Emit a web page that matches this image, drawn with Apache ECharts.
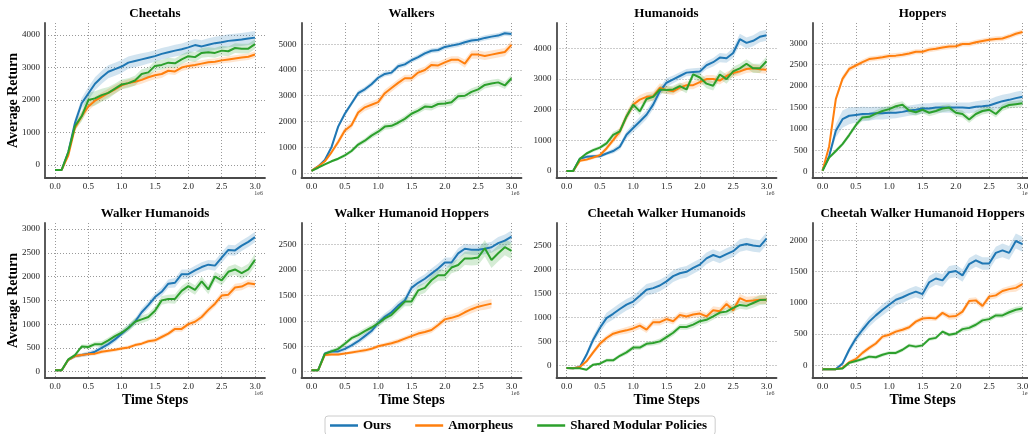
<!DOCTYPE html>
<html>
<head>
<meta charset="utf-8">
<script src="https://cdn.jsdelivr.net/npm/echarts@6.0.0/dist/echarts.min.js"></script>
<style>
  html, body { margin: 0; padding: 0; background: #fff; }
  #main { width: 1028px; height: 434px; }
</style>
</head>
<body>
<div id="main"></div>
<script>
// Training steps (in units of 1e6)
const steps = [0.0, 0.1, 0.2, 0.3, 0.4, 0.5, 0.6, 0.7, 0.8, 0.9, 1.0, 1.1, 1.2, 1.3, 1.4, 1.5,
               1.6, 1.7, 1.8, 1.9, 2.0, 2.1, 2.2, 2.3, 2.4, 2.5, 2.6, 2.7, 2.8, 2.9, 3.0];
const methods = ['Ours', 'Amorpheus', 'Shared Modular Policies'];
const panelTitles = ['Cheetahs', 'Walkers', 'Humanoids', 'Hoppers',
                     'Walker Humanoids', 'Walker Humanoid Hoppers', 'Cheetah Walker Humanoids', 'Cheetah Walker Humanoid Hoppers'];

// Cheetahs
const cheetahsOurs = [-150,-150,400,1300,1900,2200,2500,2700,2870,2950,3030,3150,3200,3250,3300,3350,3420,3470,3520,3560,3620,3690,3650,3700,3750,3780,3820,3840,3860,3890,3920];
const cheetahsAmor = [-150,-150,300,1150,1500,1800,1980,2100,2220,2330,2450,2520,2560,2620,2700,2760,2800,2900,2880,3000,3050,3080,3120,3160,3180,3220,3250,3280,3310,3330,3400];
const cheetahsSmp  = [-150,-150,400,1200,1500,2000,2050,2150,2220,2350,2480,2520,2600,2800,2850,3050,3080,3150,3130,3250,3350,3320,3450,3470,3450,3520,3500,3600,3580,3580,3720];
const cheetahsOursStd = [0,0,60,120,160,200,200,200,200,200,200,190,190,190,180,180,180,180,180,180,190,190,190,200,200,200,200,200,200,200,200];
const cheetahsAmorStd = [0,0,60,100,120,130,130,130,130,130,120,120,120,120,120,120,120,110,110,110,110,110,100,100,100,100,100,100,100,100,100];
const cheetahsSmpStd  = [0,0,60,120,160,220,220,200,180,160,150,150,150,150,150,150,150,150,150,150,150,150,150,150,150,150,150,150,150,150,150];

// Walkers
const walkersOurs = [80,250,500,1000,1800,2300,2700,3100,3250,3450,3700,3850,3900,4150,4220,4380,4500,4650,4750,4780,4900,4950,5000,5080,5150,5180,5250,5300,5340,5430,5400];
const walkersAmor = [80,250,450,800,1200,1650,1850,2350,2550,2650,2750,3100,3300,3500,3680,3680,3900,4000,4200,4180,4300,4400,4400,4250,4600,4600,4550,4600,4650,4700,4980];
const walkersSmp  = [80,200,330,450,550,680,850,1100,1250,1450,1600,1800,1830,1950,2100,2300,2420,2580,2560,2680,2700,2750,2980,3000,3150,3250,3420,3480,3520,3400,3680];
const walkersOursStd = [20,30,50,80,100,100,100,100,100,100,100,100,100,100,100,100,100,100,100,100,100,100,100,100,100,100,100,100,100,100,100];
const walkersAmorStd = [20,30,50,80,120,130,130,140,140,140,140,140,140,140,140,140,140,140,140,140,140,140,140,160,160,160,160,160,160,160,160];
const walkersSmpStd  = [20,30,40,50,60,70,80,90,100,110,120,120,120,120,120,120,120,130,130,130,130,140,140,140,140,140,140,140,140,140,150];

// Humanoids
const humanoidsOurs = [0,0,400,460,480,480,570,650,790,1180,1400,1615,1835,2165,2600,2880,2990,3100,3210,3230,3250,3450,3550,3700,3680,3850,4300,4180,4250,4380,4430];
const humanoidsAmor = [0,0,330,370,440,515,735,1010,1290,1780,2165,2330,2420,2440,2715,2640,2600,2720,2800,2800,2900,3000,3000,2950,3100,3200,3250,3330,3350,3320,3300];
const humanoidsSmp  = [0,0,400,570,680,760,900,1180,1290,1780,2165,1945,2350,2420,2660,2640,2660,2770,2660,3150,3050,2850,2780,3150,3000,3250,3350,3500,3350,3350,3580];
const humanoidsOursStd = [0,0,40,50,60,60,60,80,100,120,140,150,150,150,150,150,130,120,120,120,120,130,140,150,150,160,180,180,180,180,180];
const humanoidsAmorStd = [0,0,40,50,60,60,80,100,150,150,150,150,150,150,150,130,130,130,130,130,130,130,130,130,130,130,130,130,130,130,130];
const humanoidsSmpStd  = [0,0,40,50,60,60,80,100,100,120,120,120,120,120,120,120,120,120,120,120,150,150,150,150,150,150,150,150,150,150,150];

// Hoppers
const hoppersOurs = [30,370,960,1230,1310,1330,1350,1355,1370,1370,1380,1380,1400,1430,1450,1480,1480,1500,1500,1500,1500,1500,1490,1520,1530,1550,1600,1650,1680,1720,1750];
const hoppersAmor = [30,600,1700,2170,2400,2480,2560,2630,2650,2670,2700,2710,2730,2760,2800,2800,2850,2870,2900,2920,2930,2980,2980,3020,3050,3080,3100,3110,3160,3220,3260];
const hoppersSmp  = [30,335,490,650,860,1090,1270,1285,1360,1420,1465,1530,1565,1430,1390,1450,1380,1420,1480,1500,1380,1350,1220,1350,1420,1450,1350,1500,1560,1580,1600];
const hoppersOursStd = [0,50,150,200,200,180,170,160,150,150,140,130,120,120,120,120,120,120,120,120,120,120,130,130,140,140,150,150,150,150,150];
const hoppersAmorStd = [0,60,80,80,70,60,60,60,60,60,60,60,60,60,60,60,60,60,60,60,60,60,60,60,60,60,60,60,60,60,60];
const hoppersSmpStd  = [0,40,50,50,60,60,70,80,80,80,80,80,80,80,80,80,80,80,80,80,80,80,80,80,80,80,80,80,80,80,80];

// Walker Humanoids
const whOurs = [30,30,250,330,350,380,420,500,580,680,800,920,1050,1250,1400,1570,1680,1850,1870,2050,2050,2130,2200,2250,2230,2400,2560,2550,2650,2730,2830];
const whAmor = [30,30,250,330,350,370,380,420,440,460,490,510,560,590,640,660,730,800,900,900,1000,1050,1150,1300,1430,1600,1620,1770,1790,1860,1840];
const whSmp  = [30,30,260,350,530,520,580,580,660,750,820,920,1050,1100,1150,1280,1500,1530,1530,1700,1800,1720,1900,1730,2000,1920,2100,2150,2070,2150,2350];
const whOursStd = [0,0,30,40,40,50,50,60,60,60,60,70,70,80,80,80,90,90,100,100,100,100,100,100,110,110,110,110,110,110,110];
const whAmorStd = [0,0,30,40,40,40,40,40,40,40,40,40,40,40,40,50,50,50,60,60,60,70,70,70,70,80,80,80,80,80,80];
const whSmpStd  = [0,0,30,40,40,50,50,60,60,60,70,70,80,80,80,90,90,90,100,100,100,100,100,100,100,110,110,110,120,120,130];

// Walker Humanoid Hoppers (Amorpheus run stops at 2.7e6)
const whhOurs = [30,30,360,400,400,450,520,600,700,800,960,1080,1170,1300,1400,1650,1750,1830,1930,2030,2150,2150,2330,2420,2400,2400,2420,2450,2530,2580,2660];
const whhAmor = [30,30,330,340,340,360,380,400,420,450,500,530,560,600,650,700,750,780,820,920,1030,1060,1100,1170,1230,1280,1310,1340];
const whhSmp  = [30,30,350,400,450,550,660,720,800,870,950,1050,1120,1250,1380,1380,1600,1650,1800,1900,1900,2050,2100,2230,2230,2250,2430,2200,2330,2450,2380];
const whhOursStd = [0,0,30,40,40,50,50,60,60,60,70,70,80,80,80,90,90,90,100,100,100,100,100,100,100,110,110,110,120,120,120];
const whhAmorStd = [0,0,30,30,30,30,30,40,40,40,40,40,50,50,50,50,60,60,60,60,70,70,70,80,80,80,90,90];
const whhSmpStd  = [0,0,30,40,40,50,50,60,60,60,70,70,80,80,90,90,100,100,100,110,110,110,120,130,140,150,160,160,160,160,160];

// Cheetah Walker Humanoids
const cwhOurs = [-55,-60,-35,220,535,780,985,1075,1175,1265,1330,1450,1575,1610,1665,1750,1860,1920,1950,2030,2100,2230,2300,2250,2320,2380,2500,2530,2500,2480,2640];
const cwhAmor = [-55,-60,-35,85,270,450,570,660,700,730,770,830,745,900,900,965,920,1050,1020,1060,1080,1020,1150,1130,1280,1150,1400,1340,1350,1370,1370];
const cwhSmp  = [-55,-60,-60,-90,15,35,105,105,200,270,370,370,450,465,500,590,680,800,800,850,920,950,1020,1100,1120,1200,1260,1240,1300,1360,1370];
const cwhOursStd = [0,0,0,60,80,100,110,120,120,120,120,120,120,120,120,120,120,120,120,120,120,120,120,120,120,120,130,130,130,130,130];
const cwhAmorStd = [0,0,0,40,50,60,60,60,60,70,70,70,70,70,70,70,70,70,70,70,70,70,80,80,80,80,90,90,90,90,90];
const cwhSmpStd  = [0,0,0,20,30,30,40,40,40,50,50,50,50,50,60,60,60,60,60,70,70,70,70,70,80,80,80,80,100,100,100];

// Cheetah Walker Humanoid Hoppers
const cwhhOurs = [-60,-60,-60,30,250,430,570,700,800,890,970,1050,1090,1140,1180,1140,1330,1390,1360,1490,1510,1440,1620,1680,1630,1630,1800,1840,1800,1990,1940];
const cwhhAmor = [-60,-60,-60,-40,50,100,200,280,350,460,490,540,570,610,700,750,760,750,840,780,790,860,1030,1040,950,1100,1120,1190,1220,1240,1300];
const cwhhSmp  = [-60,-60,-60,-50,40,70,100,140,130,170,200,200,250,320,300,320,420,440,540,490,510,580,600,650,720,740,800,800,850,890,910];
const cwhhOursStd = [0,0,0,30,50,60,70,80,80,90,90,90,90,90,90,90,100,100,100,100,100,100,100,100,100,100,100,110,110,120,120];
const cwhhAmorStd = [0,0,0,20,30,40,40,40,40,40,40,40,40,40,40,40,40,40,40,50,50,50,50,50,50,50,50,50,50,60,60];
const cwhhSmpStd  = [0,0,0,20,20,30,30,30,30,30,30,30,30,30,30,30,30,30,30,30,30,40,40,40,40,40,40,40,50,50,50];

// Per-panel series (mean, spread) and y-axis extents
const panels = [
  { means: [cheetahsOurs, cheetahsAmor, cheetahsSmp], spreads: [cheetahsOursStd, cheetahsAmorStd, cheetahsSmpStd], yMin: -400, yMax: 4370, split: 5 },
  { means: [walkersOurs, walkersAmor, walkersSmp], spreads: [walkersOursStd, walkersAmorStd, walkersSmpStd], yMin: -200, yMax: 5830, split: 5 },
  { means: [humanoidsOurs, humanoidsAmor, humanoidsSmp], spreads: [humanoidsOursStd, humanoidsAmorStd, humanoidsSmpStd], yMin: -230, yMax: 4830, split: 5 },
  { means: [hoppersOurs, hoppersAmor, hoppersSmp], spreads: [hoppersOursStd, hoppersAmorStd, hoppersSmpStd], yMin: -140, yMax: 3470, split: 7 },
  { means: [whOurs, whAmor, whSmp], spreads: [whOursStd, whAmorStd, whSmpStd], yMin: -132, yMax: 3126, split: 5 },
  { means: [whhOurs, whhAmor, whhSmp], spreads: [whhOursStd, whhAmorStd, whhSmpStd], yMin: -124, yMax: 2927, split: 5 },
  { means: [cwhOurs, cwhAmor, cwhSmp], spreads: [cwhOursStd, cwhAmorStd, cwhSmpStd], yMin: -263, yMax: 2967, split: 5 },
  { means: [cwhhOurs, cwhhAmor, cwhhSmp], spreads: [cwhhOursStd, cwhhAmorStd, cwhhSmpStd], yMin: -202, yMax: 2278, split: 5 }
];

const colors = ['#1f77b4', '#ff7f0e', '#2ca02c'];
const bandColors = ['rgba(31,119,180,0.2)', 'rgba(255,127,14,0.2)', 'rgba(44,160,44,0.2)'];
const serif = '"Liberation Serif", "Times New Roman", "DejaVu Serif", serif';
const colLefts = [45, 301.5, 556.5, 812.5];
const rowTops = [23, 223];
const plotW = 220, plotH = 155;
const spine = { color: '#4a4a4a', width: 1.8 };
const gridDots = { color: '#999', width: 1, type: [1, 2] };

const grids = [], xAxes = [], yAxes = [], series = [], graphics = [];

// Shaded band (mean ± spread) drawn as one polygon through the axis scales
function bandSeries(i, mean, sd, fill) {
  return {
    type: 'custom', xAxisIndex: i, yAxisIndex: i, silent: true, z: 1,
    data: mean.map((v, k) => [steps[k], v - sd[k], v + sd[k]]),
    encode: { x: 0, y: [1, 2] },
    clip: true,
    renderItem: function (params, api) {
      if (params.dataIndex !== 0) return null;
      const upper = [], lower = [];
      for (let k = 0; k < mean.length; k++) {
        upper.push(api.coord([steps[k], mean[k] + sd[k]]));
        lower.push(api.coord([steps[k], mean[k] - sd[k]]));
      }
      return {
        type: 'polygon',
        shape: { points: upper.concat(lower.reverse()) },
        style: { fill: fill, stroke: 'none' }
      };
    }
  };
}

panels.forEach((p, i) => {
  const left = colLefts[i % 4];
  const top = rowTops[Math.floor(i / 4)];
  grids.push({ left: left, top: top, width: plotW, height: plotH, containLabel: false, outerBoundsMode: 'none' });

  xAxes.push({
    type: 'value', gridIndex: i, min: -0.15, max: 3.15, splitNumber: 5,
    axisLine: { show: true, onZero: false, lineStyle: spine },
    axisTick: { show: false },
    axisLabel: { fontFamily: serif, fontSize: 9, color: '#222', margin: 4,
                 showMinLabel: false, showMaxLabel: false, formatter: v => v.toFixed(1) },
    splitLine: { show: true, showMinLine: false, showMaxLine: false, lineStyle: gridDots }
  });
  yAxes.push({
    type: 'value', gridIndex: i, min: p.yMin, max: p.yMax, splitNumber: p.split,
    axisLine: { show: true, onZero: false, lineStyle: spine },
    axisTick: { show: false },
    axisLabel: { fontFamily: serif, fontSize: 9, color: '#222', margin: 5,
                 showMinLabel: false, showMaxLabel: false, formatter: v => String(Math.round(v)) },
    splitLine: { show: true, showMinLine: false, showMaxLine: false, lineStyle: gridDots }
  });

  p.means.forEach((mean, m) => {
    series.push(bandSeries(i, mean, p.spreads[m], bandColors[m]));
  });
  p.means.forEach((mean, m) => {
    series.push({
      name: methods[m], type: 'line', xAxisIndex: i, yAxisIndex: i,
      data: mean.map((v, k) => [steps[k], v]),
      symbol: 'none', color: colors[m],
      lineStyle: { color: colors[m], width: 2 }, z: 3
    });
  });

  const cx = left + plotW / 2;
  graphics.push({
    type: 'text', x: cx, y: top - 9,
    style: { text: panelTitles[i], fontFamily: serif, fontWeight: 'bold', fontSize: 13,
             fill: '#000', align: 'center', verticalAlign: 'middle' }
  });
  graphics.push({
    type: 'text', x: left + plotW - 2, y: top + plotH + 15,
    style: { text: '1e6', fontFamily: serif, fontSize: 6, fill: '#444', align: 'right', verticalAlign: 'middle' }
  });
  if (i % 4 === 0) {
    graphics.push({
      type: 'text', x: 13, y: top + plotH / 2, rotation: Math.PI / 2,
      style: { text: 'Average Return', fontFamily: serif, fontWeight: 'bold', fontSize: 14,
               fill: '#000', align: 'center', verticalAlign: 'middle' }
    });
  }
  if (i >= 4) {
    graphics.push({
      type: 'text', x: cx, y: top + plotH + 22,
      style: { text: 'Time Steps', fontFamily: serif, fontWeight: 'bold', fontSize: 14,
               fill: '#000', align: 'center', verticalAlign: 'middle' }
    });
  }
});

const chart = echarts.init(document.getElementById('main'), null, { renderer: 'canvas' });
chart.setOption({
  animation: false,
  backgroundColor: '#fff',
  grid: grids,
  xAxis: xAxes,
  yAxis: yAxes,
  series: series,
  graphic: graphics,
  legend: {
    data: methods, left: 325, top: 416,
    icon: 'rect', itemWidth: 28, itemHeight: 2.5, itemGap: 24,
    padding: [3, 8, 3, 5],
    borderColor: '#cccccc', borderWidth: 1, borderRadius: 3,
    textStyle: { fontFamily: serif, fontWeight: 'bold', fontSize: 13, color: '#000' }
  }
});
</script>
</body>
</html>
